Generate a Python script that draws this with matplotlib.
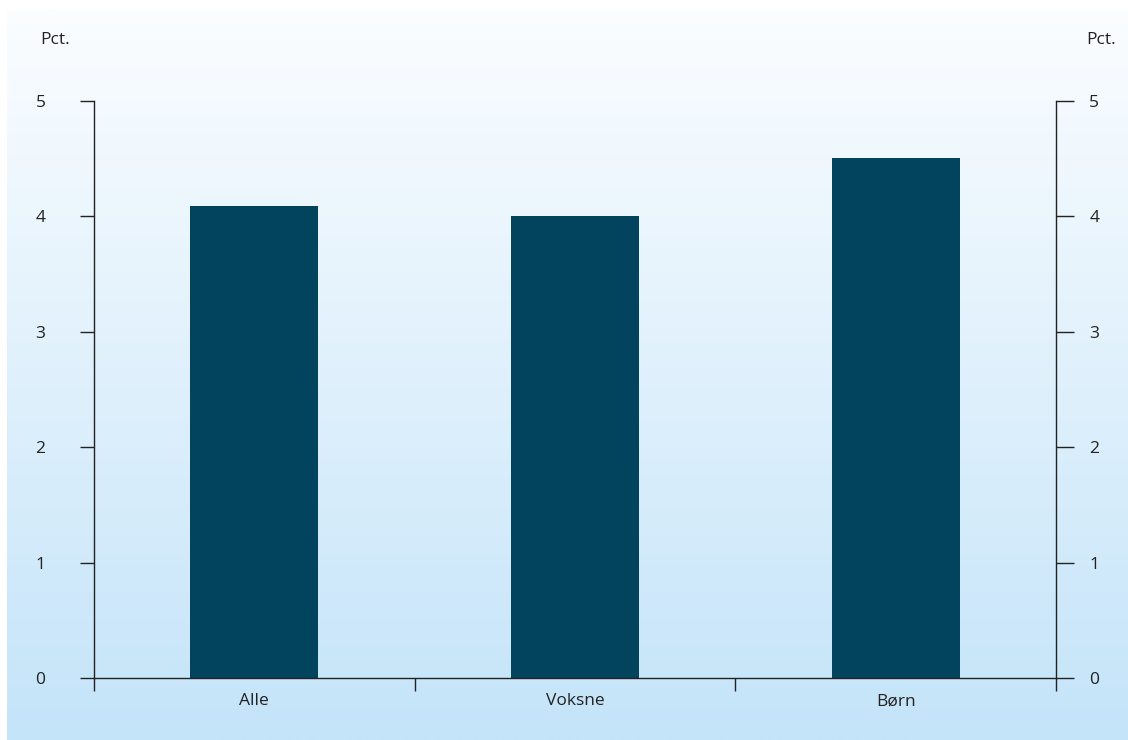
import numpy as np
import matplotlib
matplotlib.use("Agg")
import matplotlib.pyplot as plt
from matplotlib.colors import LinearSegmentedColormap

categories = ["Alle", "Voksne", "Børn"]
values = [4.09, 4.00, 4.51]
yticks = [0, 1, 2, 3, 4, 5]
unit_label = "Pct."

plt.rcParams['font.family'] = ['Open Sans', 'DejaVu Sans']

W, H = 1128, 740
fig = plt.figure(figsize=(W / 100, H / 100), dpi=100)

# gradient background
bg = fig.add_axes([7 / W, 0, 1 - 7 / W, (H - 10) / H], zorder=0)
cmap = LinearSegmentedColormap.from_list("bg", ["#fbfdff", "#c4e4f9"], N=256)
grad = np.linspace(0, 1, 256).reshape(-1, 1)
bg.imshow(grad, aspect="auto", cmap=cmap, extent=[0, 1, 1, 0])
bg.set_axis_off()

ax = fig.add_axes([94 / W, (H - 678) / H, (1056 - 94) / W, (678 - 101) / H], zorder=1)
ax.patch.set_alpha(0)
x = np.arange(len(categories))
ax.bar(x, values, width=0.40, color="#02435d", zorder=2)
ax.set_xlim(-0.5, len(categories) - 0.5)
ax.set_ylim(0, 5)

ax.spines["top"].set_visible(False)
for s in ["left", "right", "bottom"]:
    ax.spines[s].set_color("#222222")
    ax.spines[s].set_linewidth(1.0)

fs = 12.5
ax.set_yticks(yticks)
ax.set_yticklabels([str(v) for v in yticks])
ax.tick_params(axis="y", which="major", left=True, right=False, labelleft=True, labelright=False,
               direction="out", length=10, width=1, color="#222222", labelsize=fs, labelcolor="#222222", pad=25)
ax2 = ax.twinx()
ax2.set_ylim(0, 5)
ax2.set_yticks(yticks)
ax2.set_yticklabels([str(v) for v in yticks])
ax2.tick_params(axis="y", direction="out", length=13, width=1, color="#222222", labelsize=fs,
                labelcolor="#222222", pad=11)
for s in ax2.spines.values():
    s.set_visible(False)

ax.set_xticks(np.arange(len(categories) + 1) - 0.5)
ax.set_xticklabels([])
ax.set_xticks(x, minor=True)
ax.set_xticklabels(categories, minor=True)
ax.tick_params(axis="x", which="major", direction="out", length=9, width=1, color="#222222")
ax.tick_params(axis="x", which="minor", length=0, labelsize=fs, labelcolor="#222222", pad=11)

fig.text(40 / W, 1 - 40 / H, unit_label, fontsize=fs, color="#222222", va="center", ha="left")
fig.text(1086 / W, 1 - 40 / H, unit_label, fontsize=fs, color="#222222", va="center", ha="left")

fig.savefig("out.png", dpi=100)
